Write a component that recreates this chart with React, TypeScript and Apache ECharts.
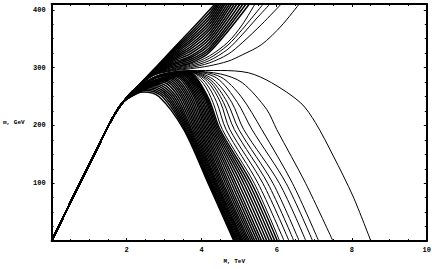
import React, { useEffect, useRef } from "react";
import * as echarts from "echarts";

type Pt = [number, number];

// shared rising part of every curve (x = M, TeV ; y = m, GeV)
const riseCurve: Pt[] = [[0, 0], [0.6, 80], [1.2, 158], [1.6, 210], [1.9, 240]];

// ---- lower dense family (turn over, fall to m = 0) : values read per curve ----
const lowX0 = [4.86, 4.88, 4.9, 4.92, 4.94, 4.96, 4.99, 5.02, 5.05, 5.08, 5.11, 5.15, 5.19, 5.23, 5.27, 5.32, 5.37, 5.42, 5.48, 5.54, 5.6, 5.67, 5.74, 5.81, 5.88, 5.95, 6.02];
const lowY23 = [256, 257, 257, 258, 258, 259, 259, 260, 260, 261, 261, 262, 262, 263, 263, 263, 264, 264, 264, 265, 265, 265, 265, 266, 266, 266, 266];
const lowPeakX = [2.45, 2.52, 2.58, 2.64, 2.7, 2.76, 2.82, 2.88, 2.94, 3.0, 3.05, 3.1, 3.15, 3.2, 3.25, 3.3, 3.34, 3.38, 3.42, 3.46, 3.5, 3.53, 3.56, 3.58, 3.6, 3.62, 3.64];
const lowPeakY = [258, 261, 263, 265, 267, 269, 271, 273, 275, 277, 278, 280, 281, 282, 283, 284, 285, 286, 287, 288, 288, 289, 289, 290, 290, 291, 291];
const lowX250 = [2.86, 2.95, 3.02, 3.08, 3.14, 3.2, 3.26, 3.32, 3.38, 3.44, 3.49, 3.54, 3.59, 3.64, 3.69, 3.74, 3.79, 3.83, 3.87, 3.91, 3.95, 3.99, 4.03, 4.07, 4.1, 4.13, 4.16];
const lowX193 = [3.52, 3.55, 3.58, 3.61, 3.64, 3.67, 3.7, 3.73, 3.77, 3.81, 3.85, 3.89, 3.93, 3.97, 4.01, 4.05, 4.09, 4.13, 4.17, 4.21, 4.25, 4.29, 4.33, 4.37, 4.41, 4.45, 4.49];
const lowX100 = [4.17, 4.19, 4.21, 4.23, 4.25, 4.27, 4.3, 4.33, 4.36, 4.39, 4.42, 4.46, 4.5, 4.54, 4.58, 4.63, 4.68, 4.73, 4.79, 4.85, 4.91, 4.98, 5.05, 5.12, 5.19, 5.26, 5.33];

// ---- lower distinct curves, fanning out of the saddle near (3.7, 294) ----
const lowerOuter: Pt[][] = [
  [[2.3, 266], [2.8, 282], [3.3, 289], [3.68, 291], [4.05, 272], [4.3, 240], [4.55, 193], [5.4, 100], [6.08, 0]],
  [[2.3, 266], [2.8, 282], [3.3, 290], [3.7, 292], [4.1, 274], [4.4, 240], [4.65, 193], [5.5, 100], [6.2, 0]],
  [[2.3, 266], [2.8, 283], [3.3, 290], [3.7, 292], [4.15, 276], [4.5, 240], [4.75, 193], [5.63, 100], [6.33, 0]],
  [[2.3, 266], [2.8, 283], [3.3, 291], [3.7, 292], [4.2, 277], [4.58, 240], [4.87, 193], [5.76, 100], [6.46, 0]],
  [[2.3, 266], [2.8, 283], [3.3, 291], [3.7, 293], [4.25, 278], [4.68, 240], [4.99, 193], [5.9, 100], [6.6, 0]],
  [[2.3, 266], [2.8, 284], [3.3, 292], [3.7, 293], [4.3, 280], [4.8, 240], [5.12, 193], [6.07, 100], [6.78, 0]],
  [[2.3, 266], [2.8, 284], [3.3, 292], [3.7, 293], [4.4, 282], [4.95, 240], [5.34, 193], [6.25, 100], [6.96, 0]],
  [[2.3, 266], [2.8, 285], [3.3, 292], [3.7, 294], [4.5, 284], [5.05, 250], [5.6, 193], [6.42, 100], [7.12, 0]],
  [[2.3, 266], [2.8, 285], [3.3, 293], [3.7, 294], [4.5, 289], [5.08, 274], [5.73, 228], [6.0, 193], [6.77, 100], [7.5, 0]],
];

// curve that runs along m ≈ 295 before falling to 8.5 TeV
const separatrix: Pt[] = [
  [2.3, 266], [2.8, 286], [3.3, 293], [3.7, 295], [4.5, 295], [5.25, 291],
  [5.86, 274], [6.64, 239], [7.03, 205], [7.51, 147], [8.03, 78], [8.51, 0],
];

// ---- upper dense family (keeps rising out of the frame) : y read at fixed M ----
const upStationX = [2.3, 2.73, 3.2, 3.7, 4.2];
const upTopX = [4.35, 4.39, 4.43, 4.47, 4.52, 4.57, 4.62, 4.68, 4.74, 4.8, 4.87, 4.94, 5.02, 5.1, 5.18, 5.27];
const upY23 = [268, 268, 268, 268, 268, 267, 267, 267, 267, 267, 267, 267, 267, 267, 267, 267];
const upY273 = [297, 297, 296, 296, 295, 295, 294, 294, 293, 293, 292, 292, 291, 291, 290, 290];
const upY32 = [330, 328, 326, 324, 322, 320, 318, 316, 314, 312, 310, 308, 306, 304, 302, 300];
const upY37 = [364, 360, 356, 352, 348, 344, 340, 336, 332, 328, 324, 320, 317, 314, 311, 308];
const upY42 = [399, 394, 389, 384, 379, 374, 369, 364, 359, 354, 349, 344, 339, 334, 330, 326];

// ---- upper distinct curves ----
const upperOuter: Pt[][] = [
  [[2.3, 267], [2.73, 289], [3.2, 298], [3.7, 306], [4.2, 320], [4.7, 344], [5.08, 374], [5.42, 410]],
  [[2.3, 267], [2.73, 288], [3.2, 297], [3.7, 304], [4.2, 316], [4.7, 339], [5.08, 366], [5.64, 410]],
  [[2.3, 266], [2.73, 288], [3.2, 296], [3.7, 302], [4.2, 312], [4.7, 332], [5.08, 357], [5.45, 384], [5.82, 410]],
  [[2.3, 266], [2.73, 287], [3.2, 295], [3.7, 300], [4.2, 308], [4.7, 323], [5.08, 343], [5.6, 375], [6.12, 410]],
  [[2.3, 266], [2.73, 287], [3.2, 294], [3.7, 298], [4.2, 303], [4.7, 311], [5.08, 322], [5.6, 340], [6.12, 372], [6.6, 410]],
];

const xTickLabels = ["2", "4", "6", "8", "10"];
const yTickLabels = ["100", "200", "300", "400"];
const xName = "M, TeV";
const yName = "m, GeV";

const tickFont = {
  fontFamily: "'Liberation Mono', 'DejaVu Sans Mono', monospace",
  fontSize: 7,
  fontWeight: "bold" as const,
  color: "#000",
};

function buildLowerDense(): Pt[][] {
  return lowX0.map((x0, i) => [
    [2.3, lowY23[i]],
    [lowPeakX[i], lowPeakY[i]],
    [lowX250[i], 250],
    [lowX193[i], 193],
    [lowX100[i], 100],
    [x0, 0],
  ] as Pt[]);
}

function buildUpperDense(): Pt[][] {
  return upTopX.map((top, i) => {
    const ys = [upY23[i], upY273[i], upY32[i], upY37[i], upY42[i]];
    const pts: Pt[] = upStationX.map((x, k) => [x, ys[k]] as Pt).filter((p) => p[0] < top);
    pts.push([top, 410]);
    return pts;
  });
}

export default function App() {
  const ref = useRef<HTMLDivElement>(null);
  useEffect(() => {
    if (!ref.current) return;
    const chart = echarts.init(ref.current, null, { renderer: "svg" });
    const axisLine = { show: true, onZero: false, lineStyle: { color: "#000", width: 2 } };
    const axisTick = { show: true, inside: true, length: 3, lineStyle: { color: "#000", width: 1 } };
    const minorTick = { show: true, splitNumber: 4, length: 2, lineStyle: { color: "#000", width: 1 } };
    const mk = (c: Pt[], w: number, i: number) => ({
      type: "line" as const,
      name: "c" + i,
      data: [...riseCurve, ...c],
      symbol: "none",
      smooth: 0.3,
      clip: true,
      silent: true,
      lineStyle: { color: "#000", width: w },
    });
    const dense = [...buildLowerDense(), ...buildUpperDense()];
    const outer = [...lowerOuter, separatrix, ...upperOuter];
    const series = [
      ...dense.map((c, i) => mk(c, 1.5, i)),
      ...outer.map((c, i) => mk(c, 1, 100 + i)),
    ];
    chart.setOption({
      animation: false,
      backgroundColor: "#fff",
      grid: { left: 45, right: 5, top: 4, bottom: 27 },
      xAxis: [
        {
          type: "value", min: 0, max: 10, interval: 2, position: "bottom",
          axisLine, axisTick, minorTick, splitLine: { show: false },
          axisLabel: {
            ...tickFont, margin: 5,
            formatter: (v: number) => (xTickLabels.includes(String(v)) ? String(v) : ""),
          },
          name: xName, nameLocation: "middle", nameGap: 14,
          nameTextStyle: { ...tickFont, fontSize: 6, padding: [0, 10, 0, 0] },
        },
        {
          type: "value", min: 0, max: 10, interval: 2, position: "top",
          axisLine, axisTick, minorTick, splitLine: { show: false },
          axisLabel: { show: false },
        },
      ],
      yAxis: [
        {
          type: "value", min: 0, max: 410, interval: 100, position: "left",
          axisLine, axisTick, minorTick, splitLine: { show: false },
          axisLabel: {
            ...tickFont, margin: 6,
            formatter: (v: number) => (yTickLabels.includes(String(v)) ? String(v) : ""),
          },
          name: yName, nameLocation: "middle", nameGap: 27, nameRotate: 0,
          nameTextStyle: { ...tickFont, fontSize: 6, align: "right" },
        },
        {
          type: "value", min: 0, max: 410, interval: 100, position: "right",
          axisLine, axisTick, minorTick, splitLine: { show: false },
          axisLabel: { show: false },
        },
      ],
      series,
    });
    return () => chart.dispose();
  }, []);
  return (
    <div
      ref={ref}
      style={{ position: "fixed", left: 0, top: 0, width: 434, height: 269, background: "#fff" }}
    />
  );
}
